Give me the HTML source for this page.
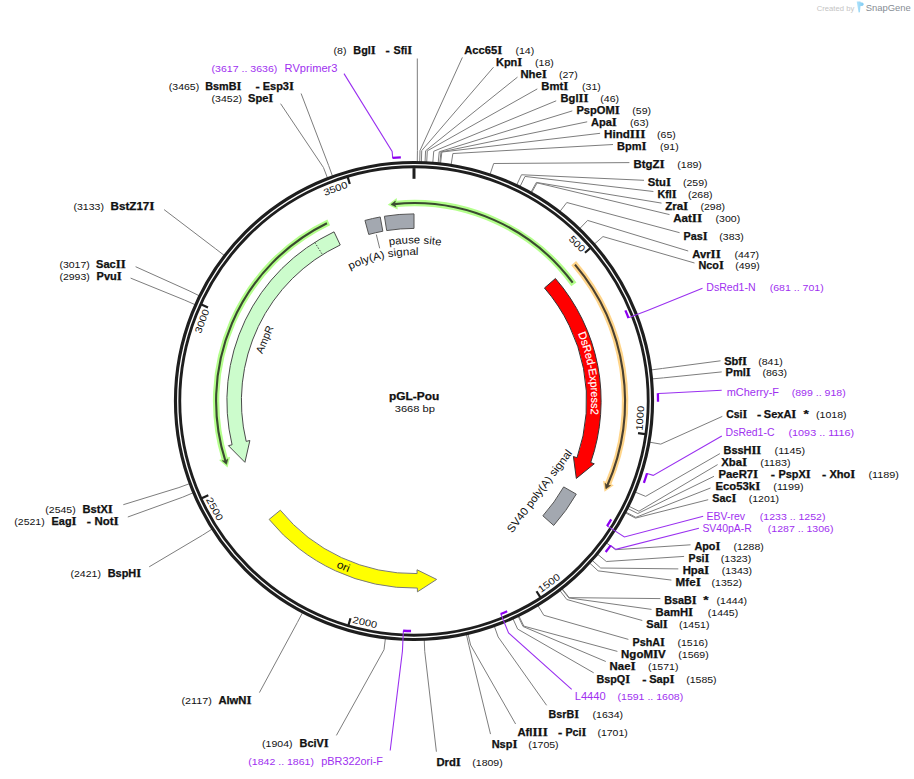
<!DOCTYPE html>
<html><head><meta charset="utf-8"><title>pGL-Pou</title>
<style>html,body{margin:0;padding:0;background:#fff;width:914px;height:779px;overflow:hidden}
svg text{font-family:"Liberation Sans",sans-serif} text[font-weight="bold"]{stroke:#111;stroke-width:0.25px} .mi{font-family:"Liberation Serif",serif;font-size:116%}</style></head>
<body><svg width="914" height="779" viewBox="0 0 914 779" style="display:block"><rect width="914" height="779" fill="#ffffff"/>
<polyline points="419.73,162.07 420.01,150.57 462.4,57.4" fill="none" stroke="#7d7d7d" stroke-width="1"/>
<polyline points="421.37,162.11 421.72,150.62 493.5,67.2" fill="none" stroke="#7d7d7d" stroke-width="1"/>
<polyline points="425.05,162.26 425.58,150.77 517.5,77.1" fill="none" stroke="#7d7d7d" stroke-width="1"/>
<polyline points="426.69,162.34 427.3,150.85 537.3,88.9" fill="none" stroke="#7d7d7d" stroke-width="1"/>
<polyline points="432.81,162.74 433.72,151.28 556.2,100.8" fill="none" stroke="#7d7d7d" stroke-width="1"/>
<polyline points="438.11,163.22 439.27,151.78 572.3,110.9" fill="none" stroke="#7d7d7d" stroke-width="1"/>
<polyline points="439.74,163.39 440.98,151.96 587.2,121.8" fill="none" stroke="#7d7d7d" stroke-width="1"/>
<polyline points="440.56,163.48 441.83,152.05 600.1,133.3" fill="none" stroke="#7d7d7d" stroke-width="1"/>
<polyline points="451.1,164.9 452.89,153.54 613,144.5" fill="none" stroke="#7d7d7d" stroke-width="1"/>
<polyline points="490.03,174.42 493.69,163.51 629.4,162.6" fill="none" stroke="#7d7d7d" stroke-width="1"/>
<polyline points="516.59,185.14 521.53,174.75 644,180.3" fill="none" stroke="#7d7d7d" stroke-width="1"/>
<polyline points="519.91,186.75 525,176.44 653.4,191.5" fill="none" stroke="#7d7d7d" stroke-width="1"/>
<polyline points="530.77,192.47 536.39,182.43 661.5,203.1" fill="none" stroke="#7d7d7d" stroke-width="1"/>
<polyline points="531.49,192.87 537.14,182.86 669.5,214.6" fill="none" stroke="#7d7d7d" stroke-width="1"/>
<polyline points="559.79,211.62 566.81,202.5 679.6,232.7" fill="none" stroke="#7d7d7d" stroke-width="1"/>
<polyline points="579.64,228.71 587.61,220.42 688.2,251" fill="none" stroke="#7d7d7d" stroke-width="1"/>
<polyline points="594.31,244.12 602.98,236.57 694.5,263" fill="none" stroke="#7d7d7d" stroke-width="1"/>
<polyline points="650.98,369.97 662.38,368.48 720.5,360.8" fill="none" stroke="#7d7d7d" stroke-width="1"/>
<polyline points="651.98,378.92 663.43,377.86 721.7,371.9" fill="none" stroke="#7d7d7d" stroke-width="1"/>
<polyline points="649.43,442.14 660.76,444.12 722.3,416.4" fill="none" stroke="#7d7d7d" stroke-width="1"/>
<polyline points="635,491.99 645.64,496.37 719.9,453.6" fill="none" stroke="#7d7d7d" stroke-width="1"/>
<polyline points="628.62,506.17 638.94,511.23 717.6,464.6" fill="none" stroke="#7d7d7d" stroke-width="1"/>
<polyline points="627.52,508.37 637.8,513.54 714,476.3" fill="none" stroke="#7d7d7d" stroke-width="1"/>
<polyline points="625.65,512.01 635.84,517.35 710.5,488" fill="none" stroke="#7d7d7d" stroke-width="1"/>
<polyline points="625.27,512.74 635.44,518.11 708.2,499.7" fill="none" stroke="#7d7d7d" stroke-width="1"/>
<polyline points="606.34,542.87 615.59,549.69 690.5,544.8" fill="none" stroke="#7d7d7d" stroke-width="1"/>
<polyline points="597.49,554.14 606.32,561.51 684.1,556.4" fill="none" stroke="#7d7d7d" stroke-width="1"/>
<polyline points="592.14,560.33 600.71,568 678.3,568.9" fill="none" stroke="#7d7d7d" stroke-width="1"/>
<polyline points="589.66,563.06 598.12,570.86 671.4,580.1" fill="none" stroke="#7d7d7d" stroke-width="1"/>
<polyline points="562.05,588.62 569.18,597.65 660.4,598.6" fill="none" stroke="#7d7d7d" stroke-width="1"/>
<polyline points="561.73,588.87 568.84,597.91 651.5,609.4" fill="none" stroke="#7d7d7d" stroke-width="1"/>
<polyline points="559.79,590.38 566.81,599.5 642.3,620.5" fill="none" stroke="#7d7d7d" stroke-width="1"/>
<polyline points="537.85,605.41 543.8,615.25 628.4,639.4" fill="none" stroke="#7d7d7d" stroke-width="1"/>
<polyline points="518.8,615.8 523.85,626.13 617.4,651.4" fill="none" stroke="#7d7d7d" stroke-width="1"/>
<polyline points="518.07,616.15 523.07,626.51 605.8,661.5" fill="none" stroke="#7d7d7d" stroke-width="1"/>
<polyline points="512.88,618.59 517.64,629.06 593.7,672.8" fill="none" stroke="#7d7d7d" stroke-width="1"/>
<polyline points="494.29,626.11 498.15,636.94 546.6,705.3" fill="none" stroke="#7d7d7d" stroke-width="1"/>
<polyline points="467.98,633.82 470.58,645.03 515.6,724" fill="none" stroke="#7d7d7d" stroke-width="1"/>
<polyline points="466.38,634.19 468.9,645.41 490.5,734.1" fill="none" stroke="#7d7d7d" stroke-width="1"/>
<polyline points="424.23,639.78 424.72,651.27 436.4,751.7" fill="none" stroke="#7d7d7d" stroke-width="1"/>
<polyline points="385.41,638.28 384.03,649.7 336.4,735.4" fill="none" stroke="#7d7d7d" stroke-width="1"/>
<polyline points="302.62,612.46 297.27,622.64 259.4,692.6" fill="none" stroke="#7d7d7d" stroke-width="1"/>
<polyline points="212.18,529.02 202.47,535.18 149.2,566.8" fill="none" stroke="#7d7d7d" stroke-width="1"/>
<polyline points="193.31,492.74 182.69,497.16 127.8,517" fill="none" stroke="#7d7d7d" stroke-width="1"/>
<polyline points="189.73,483.6 178.93,487.57 123.3,504.7" fill="none" stroke="#7d7d7d" stroke-width="1"/>
<polyline points="195.24,304.74 184.72,300.11 130.6,278.1" fill="none" stroke="#7d7d7d" stroke-width="1"/>
<polyline points="199.38,295.83 189.06,290.77 135.6,266.7" fill="none" stroke="#7d7d7d" stroke-width="1"/>
<polyline points="224.37,255.53 215.24,248.53 164.1,209.6" fill="none" stroke="#7d7d7d" stroke-width="1"/>
<polyline points="327.57,178.17 323.41,167.45 280.6,103.7" fill="none" stroke="#7d7d7d" stroke-width="1"/>
<polyline points="332.56,176.3 328.64,165.49 301.1,93.5" fill="none" stroke="#7d7d7d" stroke-width="1"/>
<polyline points="417.28,162.02 417.43,150.52 417.3,58.5" fill="none" stroke="#7d7d7d" stroke-width="1"/>
<circle cx="414" cy="401" r="236.45" fill="none" stroke="#1e1e1e" stroke-width="7.3"/>
<circle cx="414" cy="401" r="236.3" fill="none" stroke="#ffffff" stroke-width="1.3"/>
<polyline points="392.71,157.93 392.14,151.46 344,73.6" fill="none" stroke="#9a30f0" stroke-width="1.1"/>
<path d="M392.5 157.95A244 244 0 0 1 400.84 157.36" fill="none" stroke="#8c00f0" stroke-width="2.3"/>
<polyline points="628.44,317.83 647.55,310.41 702.5,288.3" fill="none" stroke="#9a30f0" stroke-width="1.1"/>
<path d="M625.38 310.35A230 230 0 0 1 628.51 318.01" fill="none" stroke="#8c00f0" stroke-width="2.3"/>
<polyline points="657.88,393.48 664.38,393.28 721.7,390.3" fill="none" stroke="#9a30f0" stroke-width="1.1"/>
<path d="M657.88 393.27A244 244 0 0 1 658 401.63" fill="none" stroke="#8c00f0" stroke-width="2.3"/>
<polyline points="646.99,473.45 653.2,475.38 721.8,436" fill="none" stroke="#9a30f0" stroke-width="1.1"/>
<path d="M647.06 473.25A244 244 0 0 1 643.89 482.77" fill="none" stroke="#8c00f0" stroke-width="2.3"/>
<polyline points="607.16,525.86 624.37,536.99 703.2,516.3" fill="none" stroke="#9a30f0" stroke-width="1.1"/>
<path d="M611.22 519.34A230 230 0 0 1 607.05 526.02" fill="none" stroke="#8c00f0" stroke-width="2.3"/>
<polyline points="610.61,545.5 615.85,549.35 698.9,528.2" fill="none" stroke="#9a30f0" stroke-width="1.1"/>
<path d="M610.73 545.33A244 244 0 0 1 605.68 551.99" fill="none" stroke="#8c00f0" stroke-width="2.3"/>
<polyline points="500.83,613.98 508.57,632.96 571.7,689.4" fill="none" stroke="#9a30f0" stroke-width="1.1"/>
<path d="M507.18 611.28A230 230 0 0 1 500.65 614.05" fill="none" stroke="#8c00f0" stroke-width="2.3"/>
<polyline points="403.37,630.75 402.42,651.23 390.2,750.5" fill="none" stroke="#9a30f0" stroke-width="1.1"/>
<path d="M411.05 630.98A230 230 0 0 1 403.17 630.74" fill="none" stroke="#8c00f0" stroke-width="2.3"/>
<line x1="414" y1="168.1" x2="414" y2="178.8" stroke="#1e1e1e" stroke-width="3"/>
<line x1="590.42" y1="248.04" x2="584.98" y2="252.75" stroke="#1e1e1e" stroke-width="2.2"/>
<text x="577.18" y="247.17" font-size="9.6" fill="#111111" text-anchor="middle" textLength="18.61" lengthAdjust="spacingAndGlyphs" transform="rotate(46.06 577.18 243.77)">500</text>
<line x1="645.14" y1="434.09" x2="638.02" y2="433.07" stroke="#1e1e1e" stroke-width="2.2"/>
<text x="639.95" y="421.59" font-size="9.6" fill="#111111" text-anchor="middle" textLength="24.81" lengthAdjust="spacingAndGlyphs" transform="rotate(-85.65 639.95 418.19)">1000</text>
<line x1="540.42" y1="597.31" x2="536.52" y2="591.26" stroke="#1e1e1e" stroke-width="2.2"/>
<text x="549.03" y="586.38" font-size="9.6" fill="#111111" text-anchor="middle" textLength="24.81" lengthAdjust="spacingAndGlyphs" transform="rotate(-36.58 549.03 582.98)">1500</text>
<line x1="348.49" y1="625.12" x2="350.51" y2="618.21" stroke="#1e1e1e" stroke-width="2.2"/>
<text x="364.96" y="625.63" font-size="9.6" fill="#111111" text-anchor="middle" textLength="24.81" lengthAdjust="spacingAndGlyphs" transform="rotate(12.5 364.96 622.23)">2000</text>
<line x1="201.75" y1="498.33" x2="208.3" y2="495.33" stroke="#1e1e1e" stroke-width="2.2"/>
<text x="214.73" y="512.28" font-size="9.6" fill="#111111" text-anchor="middle" textLength="24.81" lengthAdjust="spacingAndGlyphs" transform="rotate(61.57 214.73 508.88)">2500</text>
<line x1="201.42" y1="304.4" x2="207.97" y2="307.38" stroke="#1e1e1e" stroke-width="2.2"/>
<text x="201.95" y="324.51" font-size="9.6" fill="#111111" text-anchor="middle" textLength="24.81" lengthAdjust="spacingAndGlyphs" transform="rotate(-69.36 201.95 321.11)">3000</text>
<line x1="347.73" y1="177.1" x2="349.77" y2="184.01" stroke="#1e1e1e" stroke-width="2.2"/>
<text x="335.45" y="191.85" font-size="9.6" fill="#111111" text-anchor="middle" textLength="24.81" lengthAdjust="spacingAndGlyphs" transform="rotate(-20.28 335.45 188.45)">3500</text>
<path d="M334.04 231.85A187.1 187.1 0 0 0 232.09 444.77L228.4 445.66L244.92 462.31L249.88 440.49L246.19 441.38A172.6 172.6 0 0 1 340.24 244.96Z" fill="#ccfccc" stroke="#4a4a4a" stroke-width="1" stroke-linejoin="miter"/>
<line x1="314.77" y1="242.38" x2="322.46" y2="254.67" stroke="#4a4a4a" stroke-width="1" stroke-dasharray="1.5,1.5"/>
<path d="M555.42 278.5A187.1 187.1 0 0 1 590.69 462.53L594.28 463.78L576.33 478.43L573.41 456.51L577 457.76A172.6 172.6 0 0 0 544.46 287.99Z" fill="#ff0000" stroke="#333333" stroke-width="1" stroke-linejoin="miter"/>
<path d="M269.11 519.38A187.1 187.1 0 0 0 417.36 588.07L417.43 591.87L436.63 579.42L417.03 569.77L417.1 573.57A172.6 172.6 0 0 1 280.34 510.2Z" fill="#ffff00" stroke="#7a7a7a" stroke-width="1" stroke-linejoin="miter"/>
<path d="M384.41 216.25A187.1 187.1 0 0 1 414 213.9L414 228.4A172.6 172.6 0 0 0 386.7 230.57Z" fill="#a3a8b0" stroke="#555555" stroke-width="1"/>
<path d="M364.94 220.45A187.1 187.1 0 0 1 380.22 216.97L382.84 231.24A172.6 172.6 0 0 0 368.75 234.44Z" fill="#a3a8b0" stroke="#555555" stroke-width="1"/>
<path d="M576.28 494.13A187.1 187.1 0 0 1 553.7 525.46L542.87 515.82A172.6 172.6 0 0 0 563.7 486.91Z" fill="#a3a8b0" stroke="#555555" stroke-width="1"/>
<path d="M328.74 222.41A197.9 197.9 0 0 0 224.74 458.84" fill="none" stroke="#b4ff8c" stroke-width="6.4"/>
<path d="M227.57 467.39L219.05 460.04L230.15 456.68Z" fill="#b4ff8c"/>
<path d="M326.94 223.28A197.9 197.9 0 0 0 225.49 461.23" fill="none" stroke="#3a4a30" stroke-width="2.1"/>
<path d="M226.52 464.36L222.27 460.66L225.4 460.94L227.81 458.94Z" fill="#3a4a30" stroke="#3a4a30" stroke-width="0.6" stroke-linejoin="miter"/>
<path d="M573.86 284.34A197.9 197.9 0 0 0 396.7 203.86" fill="none" stroke="#b4ff8c" stroke-width="6.4"/>
<path d="M387.76 204.85L396.71 198.04L397.69 209.59Z" fill="#b4ff8c"/>
<path d="M572.67 282.73A197.9 197.9 0 0 0 394.21 204.09" fill="none" stroke="#3a4a30" stroke-width="2.1"/>
<path d="M390.93 204.45L395.44 201.06L394.51 204.06L395.97 206.83Z" fill="#3a4a30" stroke="#3a4a30" stroke-width="0.6" stroke-linejoin="miter"/>
<path d="M573.69 263.09A211 211 0 0 1 608.22 483.46" fill="none" stroke="#ffd58a" stroke-width="6.4"/>
<path d="M604.52 491.67L613.76 485.26L603.07 480.75Z" fill="#ffd58a"/>
<path d="M574.99 264.61A211 211 0 0 1 607.23 485.76" fill="none" stroke="#4a4030" stroke-width="2.1"/>
<path d="M605.88 488.77L610.49 485.53L607.35 485.49L605.16 483.24Z" fill="#4a4030" stroke="#4a4030" stroke-width="0.6" stroke-linejoin="miter"/>
<path id="dsp" d="M560.04 300.63A177.2 177.2 0 0 1 583.9 451.33" fill="none"/>
<text font-size="11" fill="#ffffff" stroke="#ffffff" stroke-width="0.15"><textPath href="#dsp" startOffset="50%" text-anchor="middle" textLength="82.55" lengthAdjust="spacingAndGlyphs">DsRed-Express2</textPath></text>
<path id="orip" d="M307.24 550.12A183.4 183.4 0 0 0 380.26 581.27" fill="none"/>
<text font-size="10.8" fill="#111111"><textPath href="#orip" startOffset="50%" text-anchor="middle" textLength="13.4" lengthAdjust="spacingAndGlyphs">ori</textPath></text>
<text x="262.3" y="354.2" font-size="10.6" font-weight="normal" fill="#111111" textLength="28.98" lengthAdjust="spacingAndGlyphs" transform="rotate(-67.1 262.3 354.2)">AmpR</text>
<text x="512.2" y="533.4" font-size="11" font-weight="normal" fill="#111111" textLength="100.39" lengthAdjust="spacingAndGlyphs" transform="rotate(-53 512.2 533.4)">SV40 poly(A) signal</text>
<path id="psp" d="M313.54 279.57A157.6 157.6 0 0 1 516.14 280.98" fill="none"/>
<text font-size="10.6" fill="#111111"><textPath href="#psp" startOffset="50%" text-anchor="middle" textLength="51.83" lengthAdjust="spacingAndGlyphs">pause site</textPath></text>
<path id="pap" d="M284.97 332.68A146 146 0 0 1 503.69 285.79" fill="none"/>
<text font-size="10.6" fill="#111111"><textPath href="#pap" startOffset="50%" text-anchor="middle" textLength="70.55" lengthAdjust="spacingAndGlyphs">poly(A) signal</textPath></text>
<line x1="376.3" y1="234.5" x2="379.7" y2="248.3" stroke="#7d7d7d" stroke-width="1"/>
<text x="389" y="399.9" font-size="10" font-weight="bold" fill="#111111" textLength="50.28" lengthAdjust="spacingAndGlyphs">pGL-Pou</text>
<text x="394.7" y="411.8" font-size="9.8" font-weight="normal" fill="#111111" textLength="40.33" lengthAdjust="spacingAndGlyphs">3668 bp</text>
<text x="464.3" y="53.8" font-size="10" font-weight="bold" fill="#111111" textLength="37.98" lengthAdjust="spacingAndGlyphs">Acc65<tspan class="mi">I</tspan></text>
<text x="515.4" y="53.8" font-size="8.4" font-weight="normal" fill="#111111" textLength="18.78" lengthAdjust="spacingAndGlyphs">(14)</text>
<text x="496" y="65.9" font-size="10" font-weight="bold" fill="#111111" textLength="26.26" lengthAdjust="spacingAndGlyphs">Kpn<tspan class="mi">I</tspan></text>
<text x="535" y="65.9" font-size="8.4" font-weight="normal" fill="#111111" textLength="18.78" lengthAdjust="spacingAndGlyphs">(18)</text>
<text x="520.4" y="77.7" font-size="10" font-weight="bold" fill="#111111" textLength="26.51" lengthAdjust="spacingAndGlyphs">Nhe<tspan class="mi">I</tspan></text>
<text x="558.9" y="77.7" font-size="8.4" font-weight="normal" fill="#111111" textLength="18.78" lengthAdjust="spacingAndGlyphs">(27)</text>
<text x="541.3" y="89.6" font-size="10" font-weight="bold" fill="#111111" textLength="27.07" lengthAdjust="spacingAndGlyphs">Bmt<tspan class="mi">I</tspan></text>
<text x="582" y="89.6" font-size="8.4" font-weight="normal" fill="#111111" textLength="18.78" lengthAdjust="spacingAndGlyphs">(31)</text>
<text x="560.6" y="101.8" font-size="10" font-weight="bold" fill="#111111" textLength="27.91" lengthAdjust="spacingAndGlyphs">Bgl<tspan class="mi">I</tspan><tspan class="mi">I</tspan></text>
<text x="600.3" y="101.8" font-size="8.4" font-weight="normal" fill="#111111" textLength="18.78" lengthAdjust="spacingAndGlyphs">(46)</text>
<text x="576.4" y="113.9" font-size="10" font-weight="bold" fill="#111111" textLength="43.29" lengthAdjust="spacingAndGlyphs">PspOM<tspan class="mi">I</tspan></text>
<text x="632.3" y="113.9" font-size="8.4" font-weight="normal" fill="#111111" textLength="18.78" lengthAdjust="spacingAndGlyphs">(59)</text>
<text x="591" y="125.7" font-size="10" font-weight="bold" fill="#111111" textLength="25.87" lengthAdjust="spacingAndGlyphs">Apa<tspan class="mi">I</tspan></text>
<text x="630" y="125.7" font-size="8.4" font-weight="normal" fill="#111111" textLength="18.78" lengthAdjust="spacingAndGlyphs">(63)</text>
<text x="604.1" y="137.8" font-size="10" font-weight="bold" fill="#111111" textLength="41.48" lengthAdjust="spacingAndGlyphs">Hind<tspan class="mi">I</tspan><tspan class="mi">I</tspan><tspan class="mi">I</tspan></text>
<text x="657" y="137.8" font-size="8.4" font-weight="normal" fill="#111111" textLength="18.78" lengthAdjust="spacingAndGlyphs">(65)</text>
<text x="617.1" y="150.1" font-size="10" font-weight="bold" fill="#111111" textLength="29.5" lengthAdjust="spacingAndGlyphs">Bpm<tspan class="mi">I</tspan></text>
<text x="659.9" y="150.1" font-size="8.4" font-weight="normal" fill="#111111" textLength="18.78" lengthAdjust="spacingAndGlyphs">(91)</text>
<text x="633.5" y="168.2" font-size="10" font-weight="bold" fill="#111111" textLength="31.14" lengthAdjust="spacingAndGlyphs">BtgZ<tspan class="mi">I</tspan></text>
<text x="677.3" y="168.2" font-size="8.4" font-weight="normal" fill="#111111" textLength="24.6" lengthAdjust="spacingAndGlyphs">(189)</text>
<text x="647.8" y="186" font-size="10" font-weight="bold" fill="#111111" textLength="23.28" lengthAdjust="spacingAndGlyphs">Stu<tspan class="mi">I</tspan></text>
<text x="683" y="186" font-size="8.4" font-weight="normal" fill="#111111" textLength="24.6" lengthAdjust="spacingAndGlyphs">(259)</text>
<text x="657.4" y="197.9" font-size="10" font-weight="bold" fill="#111111" textLength="19.26" lengthAdjust="spacingAndGlyphs">Kfl<tspan class="mi">I</tspan></text>
<text x="688" y="197.9" font-size="8.4" font-weight="normal" fill="#111111" textLength="24.6" lengthAdjust="spacingAndGlyphs">(268)</text>
<text x="665.2" y="209.6" font-size="10" font-weight="bold" fill="#111111" textLength="23.1" lengthAdjust="spacingAndGlyphs">Zra<tspan class="mi">I</tspan></text>
<text x="700.5" y="209.6" font-size="8.4" font-weight="normal" fill="#111111" textLength="24.6" lengthAdjust="spacingAndGlyphs">(298)</text>
<text x="673.3" y="221.9" font-size="10" font-weight="bold" fill="#111111" textLength="28.99" lengthAdjust="spacingAndGlyphs">Aat<tspan class="mi">I</tspan><tspan class="mi">I</tspan></text>
<text x="715.6" y="221.9" font-size="8.4" font-weight="normal" fill="#111111" textLength="24.6" lengthAdjust="spacingAndGlyphs">(300)</text>
<text x="683.6" y="239.8" font-size="10" font-weight="bold" fill="#111111" textLength="23.95" lengthAdjust="spacingAndGlyphs">Pas<tspan class="mi">I</tspan></text>
<text x="719.3" y="239.8" font-size="8.4" font-weight="normal" fill="#111111" textLength="24.6" lengthAdjust="spacingAndGlyphs">(383)</text>
<text x="692.2" y="257.6" font-size="10" font-weight="bold" fill="#111111" textLength="28.55" lengthAdjust="spacingAndGlyphs">Avr<tspan class="mi">I</tspan><tspan class="mi">I</tspan></text>
<text x="734.5" y="257.6" font-size="8.4" font-weight="normal" fill="#111111" textLength="24.6" lengthAdjust="spacingAndGlyphs">(447)</text>
<text x="698.5" y="269.4" font-size="10" font-weight="bold" fill="#111111" textLength="25.39" lengthAdjust="spacingAndGlyphs">Nco<tspan class="mi">I</tspan></text>
<text x="735.2" y="269.4" font-size="8.4" font-weight="normal" fill="#111111" textLength="24.6" lengthAdjust="spacingAndGlyphs">(499)</text>
<text x="724.2" y="365" font-size="10" font-weight="bold" fill="#111111" textLength="22.88" lengthAdjust="spacingAndGlyphs">Sbf<tspan class="mi">I</tspan></text>
<text x="758.2" y="365" font-size="8.4" font-weight="normal" fill="#111111" textLength="24.6" lengthAdjust="spacingAndGlyphs">(841)</text>
<text x="725.5" y="376.4" font-size="10" font-weight="bold" fill="#111111" textLength="25.4" lengthAdjust="spacingAndGlyphs">Pml<tspan class="mi">I</tspan></text>
<text x="762.5" y="376.4" font-size="8.4" font-weight="normal" fill="#111111" textLength="24.6" lengthAdjust="spacingAndGlyphs">(863)</text>
<text x="726.3" y="417.6" font-size="10" font-weight="bold" fill="#111111" textLength="20.85" lengthAdjust="spacingAndGlyphs">Csi<tspan class="mi">I</tspan></text>
<text x="757" y="417.6" font-size="10" font-weight="bold" fill="#111111" textLength="4.23" lengthAdjust="spacingAndGlyphs">-</text>
<text x="763.8" y="417.6" font-size="10" font-weight="bold" fill="#111111" textLength="32.53" lengthAdjust="spacingAndGlyphs">SexA<tspan class="mi">I</tspan></text>
<text x="803.6" y="417.6" font-size="10" font-weight="bold" fill="#111111" textLength="5.33" lengthAdjust="spacingAndGlyphs">*</text>
<text x="816.1" y="417.6" font-size="8.4" font-weight="normal" fill="#111111" textLength="30.43" lengthAdjust="spacingAndGlyphs">(1018)</text>
<text x="723.5" y="453.6" font-size="10" font-weight="bold" fill="#111111" textLength="37.79" lengthAdjust="spacingAndGlyphs">BssH<tspan class="mi">I</tspan><tspan class="mi">I</tspan></text>
<text x="774.6" y="453.6" font-size="8.4" font-weight="normal" fill="#111111" textLength="30.43" lengthAdjust="spacingAndGlyphs">(1145)</text>
<text x="721.2" y="465.6" font-size="10" font-weight="bold" fill="#111111" textLength="25.84" lengthAdjust="spacingAndGlyphs">Xba<tspan class="mi">I</tspan></text>
<text x="760.2" y="465.6" font-size="8.4" font-weight="normal" fill="#111111" textLength="30.43" lengthAdjust="spacingAndGlyphs">(1183)</text>
<text x="718.5" y="477.7" font-size="10" font-weight="bold" fill="#111111" textLength="39.75" lengthAdjust="spacingAndGlyphs">PaeR7<tspan class="mi">I</tspan></text>
<text x="770.8" y="477.7" font-size="10" font-weight="bold" fill="#111111" textLength="4.23" lengthAdjust="spacingAndGlyphs">-</text>
<text x="778.4" y="477.7" font-size="10" font-weight="bold" fill="#111111" textLength="32.33" lengthAdjust="spacingAndGlyphs">PspX<tspan class="mi">I</tspan></text>
<text x="821.9" y="477.7" font-size="10" font-weight="bold" fill="#111111" textLength="4.23" lengthAdjust="spacingAndGlyphs">-</text>
<text x="829.4" y="477.7" font-size="10" font-weight="bold" fill="#111111" textLength="25.93" lengthAdjust="spacingAndGlyphs">Xho<tspan class="mi">I</tspan></text>
<text x="868.4" y="477.7" font-size="8.4" font-weight="normal" fill="#111111" textLength="30.43" lengthAdjust="spacingAndGlyphs">(1189)</text>
<text x="715.5" y="489.5" font-size="10" font-weight="bold" fill="#111111" textLength="44.79" lengthAdjust="spacingAndGlyphs">Eco53k<tspan class="mi">I</tspan></text>
<text x="773.3" y="489.5" font-size="8.4" font-weight="normal" fill="#111111" textLength="30.43" lengthAdjust="spacingAndGlyphs">(1199)</text>
<text x="712.2" y="501.6" font-size="10" font-weight="bold" fill="#111111" textLength="24.07" lengthAdjust="spacingAndGlyphs">Sac<tspan class="mi">I</tspan></text>
<text x="748.7" y="501.6" font-size="8.4" font-weight="normal" fill="#111111" textLength="30.43" lengthAdjust="spacingAndGlyphs">(1201)</text>
<text x="694.4" y="549.8" font-size="10" font-weight="bold" fill="#111111" textLength="26" lengthAdjust="spacingAndGlyphs">Apo<tspan class="mi">I</tspan></text>
<text x="733.4" y="549.8" font-size="8.4" font-weight="normal" fill="#111111" textLength="30.43" lengthAdjust="spacingAndGlyphs">(1288)</text>
<text x="688.6" y="561.6" font-size="10" font-weight="bold" fill="#111111" textLength="20.66" lengthAdjust="spacingAndGlyphs">Psi<tspan class="mi">I</tspan></text>
<text x="720.8" y="561.6" font-size="8.4" font-weight="normal" fill="#111111" textLength="30.43" lengthAdjust="spacingAndGlyphs">(1323)</text>
<text x="682.7" y="574.2" font-size="10" font-weight="bold" fill="#111111" textLength="26.52" lengthAdjust="spacingAndGlyphs">Hpa<tspan class="mi">I</tspan></text>
<text x="721.7" y="574.2" font-size="8.4" font-weight="normal" fill="#111111" textLength="30.43" lengthAdjust="spacingAndGlyphs">(1343)</text>
<text x="675.6" y="585.9" font-size="10" font-weight="bold" fill="#111111" textLength="25.3" lengthAdjust="spacingAndGlyphs">Mfe<tspan class="mi">I</tspan></text>
<text x="711.6" y="585.9" font-size="8.4" font-weight="normal" fill="#111111" textLength="30.43" lengthAdjust="spacingAndGlyphs">(1352)</text>
<text x="664.3" y="603.9" font-size="10" font-weight="bold" fill="#111111" textLength="32.3" lengthAdjust="spacingAndGlyphs">BsaB<tspan class="mi">I</tspan></text>
<text x="703.3" y="603.9" font-size="10" font-weight="bold" fill="#111111" textLength="5.33" lengthAdjust="spacingAndGlyphs">*</text>
<text x="716.6" y="603.9" font-size="8.4" font-weight="normal" fill="#111111" textLength="30.43" lengthAdjust="spacingAndGlyphs">(1444)</text>
<text x="655.5" y="615.9" font-size="10" font-weight="bold" fill="#111111" textLength="37.62" lengthAdjust="spacingAndGlyphs">BamH<tspan class="mi">I</tspan></text>
<text x="707.8" y="615.9" font-size="8.4" font-weight="normal" fill="#111111" textLength="30.43" lengthAdjust="spacingAndGlyphs">(1445)</text>
<text x="646.3" y="627.6" font-size="10" font-weight="bold" fill="#111111" textLength="21.52" lengthAdjust="spacingAndGlyphs">Sal<tspan class="mi">I</tspan></text>
<text x="679" y="627.6" font-size="8.4" font-weight="normal" fill="#111111" textLength="30.43" lengthAdjust="spacingAndGlyphs">(1451)</text>
<text x="632.5" y="646.3" font-size="10" font-weight="bold" fill="#111111" textLength="32.32" lengthAdjust="spacingAndGlyphs">PshA<tspan class="mi">I</tspan></text>
<text x="677.5" y="646.3" font-size="8.4" font-weight="normal" fill="#111111" textLength="30.43" lengthAdjust="spacingAndGlyphs">(1516)</text>
<text x="621.1" y="658.4" font-size="10" font-weight="bold" fill="#111111" textLength="44.69" lengthAdjust="spacingAndGlyphs">NgoM<tspan class="mi">I</tspan>V</text>
<text x="678.3" y="658.4" font-size="8.4" font-weight="normal" fill="#111111" textLength="30.43" lengthAdjust="spacingAndGlyphs">(1569)</text>
<text x="609.6" y="669.8" font-size="10" font-weight="bold" fill="#111111" textLength="26.13" lengthAdjust="spacingAndGlyphs">Nae<tspan class="mi">I</tspan></text>
<text x="648" y="669.8" font-size="8.4" font-weight="normal" fill="#111111" textLength="30.43" lengthAdjust="spacingAndGlyphs">(1571)</text>
<text x="596.4" y="682.5" font-size="10" font-weight="bold" fill="#111111" textLength="33.61" lengthAdjust="spacingAndGlyphs">BspQ<tspan class="mi">I</tspan></text>
<text x="642.2" y="682.5" font-size="10" font-weight="bold" fill="#111111" textLength="4.23" lengthAdjust="spacingAndGlyphs">-</text>
<text x="649.2" y="682.5" font-size="10" font-weight="bold" fill="#111111" textLength="25.33" lengthAdjust="spacingAndGlyphs">Sap<tspan class="mi">I</tspan></text>
<text x="686.2" y="682.5" font-size="8.4" font-weight="normal" fill="#111111" textLength="30.43" lengthAdjust="spacingAndGlyphs">(1585)</text>
<text x="548.6" y="718.2" font-size="10" font-weight="bold" fill="#111111" textLength="30.45" lengthAdjust="spacingAndGlyphs">BsrB<tspan class="mi">I</tspan></text>
<text x="592.6" y="718.2" font-size="8.4" font-weight="normal" fill="#111111" textLength="30.43" lengthAdjust="spacingAndGlyphs">(1634)</text>
<text x="517.4" y="735.6" font-size="10" font-weight="bold" fill="#111111" textLength="30.34" lengthAdjust="spacingAndGlyphs">Afl<tspan class="mi">I</tspan><tspan class="mi">I</tspan><tspan class="mi">I</tspan></text>
<text x="557.9" y="735.6" font-size="10" font-weight="bold" fill="#111111" textLength="4.23" lengthAdjust="spacingAndGlyphs">-</text>
<text x="565.4" y="735.6" font-size="10" font-weight="bold" fill="#111111" textLength="20.81" lengthAdjust="spacingAndGlyphs">Pci<tspan class="mi">I</tspan></text>
<text x="597.4" y="735.6" font-size="8.4" font-weight="normal" fill="#111111" textLength="30.43" lengthAdjust="spacingAndGlyphs">(1701)</text>
<text x="491.7" y="747.9" font-size="10" font-weight="bold" fill="#111111" textLength="25.7" lengthAdjust="spacingAndGlyphs">Nsp<tspan class="mi">I</tspan></text>
<text x="528.2" y="747.9" font-size="8.4" font-weight="normal" fill="#111111" textLength="30.43" lengthAdjust="spacingAndGlyphs">(1705)</text>
<text x="436.4" y="765.6" font-size="10" font-weight="bold" fill="#111111" textLength="24.59" lengthAdjust="spacingAndGlyphs">Drd<tspan class="mi">I</tspan></text>
<text x="472.3" y="765.6" font-size="8.4" font-weight="normal" fill="#111111" textLength="30.43" lengthAdjust="spacingAndGlyphs">(1809)</text>
<text x="262.1" y="746.7" font-size="8.4" font-weight="normal" fill="#111111" textLength="30.43" lengthAdjust="spacingAndGlyphs">(1904)</text>
<text x="299.6" y="746.7" font-size="10" font-weight="bold" fill="#111111" textLength="29.01" lengthAdjust="spacingAndGlyphs">BciV<tspan class="mi">I</tspan></text>
<text x="181.4" y="704.4" font-size="8.4" font-weight="normal" fill="#111111" textLength="30.43" lengthAdjust="spacingAndGlyphs">(2117)</text>
<text x="218.4" y="704.4" font-size="10" font-weight="bold" fill="#111111" textLength="33.15" lengthAdjust="spacingAndGlyphs">AlwN<tspan class="mi">I</tspan></text>
<text x="70.5" y="576.9" font-size="8.4" font-weight="normal" fill="#111111" textLength="30.43" lengthAdjust="spacingAndGlyphs">(2421)</text>
<text x="107.7" y="576.9" font-size="10" font-weight="bold" fill="#111111" textLength="33.48" lengthAdjust="spacingAndGlyphs">BspH<tspan class="mi">I</tspan></text>
<text x="14.3" y="524.8" font-size="8.4" font-weight="normal" fill="#111111" textLength="30.43" lengthAdjust="spacingAndGlyphs">(2521)</text>
<text x="51.6" y="524.8" font-size="10" font-weight="bold" fill="#111111" textLength="24.95" lengthAdjust="spacingAndGlyphs">Eag<tspan class="mi">I</tspan></text>
<text x="86.8" y="524.8" font-size="10" font-weight="bold" fill="#111111" textLength="4.23" lengthAdjust="spacingAndGlyphs">-</text>
<text x="94.4" y="524.8" font-size="10" font-weight="bold" fill="#111111" textLength="24.22" lengthAdjust="spacingAndGlyphs">Not<tspan class="mi">I</tspan></text>
<text x="45.3" y="512.7" font-size="8.4" font-weight="normal" fill="#111111" textLength="30.43" lengthAdjust="spacingAndGlyphs">(2545)</text>
<text x="82.5" y="512.7" font-size="10" font-weight="bold" fill="#111111" textLength="30.38" lengthAdjust="spacingAndGlyphs">BstX<tspan class="mi">I</tspan></text>
<text x="59.4" y="279.8" font-size="8.4" font-weight="normal" fill="#111111" textLength="30.43" lengthAdjust="spacingAndGlyphs">(2993)</text>
<text x="96.6" y="279.8" font-size="10" font-weight="bold" fill="#111111" textLength="25.18" lengthAdjust="spacingAndGlyphs">Pvu<tspan class="mi">I</tspan></text>
<text x="59.4" y="268" font-size="8.4" font-weight="normal" fill="#111111" textLength="30.43" lengthAdjust="spacingAndGlyphs">(3017)</text>
<text x="96.1" y="268" font-size="10" font-weight="bold" fill="#111111" textLength="29.62" lengthAdjust="spacingAndGlyphs">Sac<tspan class="mi">I</tspan><tspan class="mi">I</tspan></text>
<text x="73.5" y="209.6" font-size="8.4" font-weight="normal" fill="#111111" textLength="30.43" lengthAdjust="spacingAndGlyphs">(3133)</text>
<text x="110.5" y="209.6" font-size="10" font-weight="bold" fill="#111111" textLength="44.11" lengthAdjust="spacingAndGlyphs">BstZ17<tspan class="mi">I</tspan></text>
<text x="211.6" y="101.7" font-size="8.4" font-weight="normal" fill="#111111" textLength="30.43" lengthAdjust="spacingAndGlyphs">(3452)</text>
<text x="248" y="101.7" font-size="10" font-weight="bold" fill="#111111" textLength="25.36" lengthAdjust="spacingAndGlyphs">Spe<tspan class="mi">I</tspan></text>
<text x="168.8" y="89.6" font-size="8.4" font-weight="normal" fill="#111111" textLength="30.43" lengthAdjust="spacingAndGlyphs">(3465)</text>
<text x="205.3" y="89.6" font-size="10" font-weight="bold" fill="#111111" textLength="36.04" lengthAdjust="spacingAndGlyphs">BsmB<tspan class="mi">I</tspan></text>
<text x="255.6" y="89.6" font-size="10" font-weight="bold" fill="#111111" textLength="4.23" lengthAdjust="spacingAndGlyphs">-</text>
<text x="262.7" y="89.6" font-size="10" font-weight="bold" fill="#111111" textLength="31.23" lengthAdjust="spacingAndGlyphs">Esp3<tspan class="mi">I</tspan></text>
<text x="333.6" y="54" font-size="8.4" font-weight="normal" fill="#111111" textLength="12.96" lengthAdjust="spacingAndGlyphs">(8)</text>
<text x="353.3" y="54" font-size="10" font-weight="bold" fill="#111111" textLength="22.37" lengthAdjust="spacingAndGlyphs">Bgl<tspan class="mi">I</tspan></text>
<text x="385.6" y="54" font-size="10" font-weight="bold" fill="#111111" textLength="4.23" lengthAdjust="spacingAndGlyphs">-</text>
<text x="393.5" y="54" font-size="10" font-weight="bold" fill="#111111" textLength="18.7" lengthAdjust="spacingAndGlyphs">Sfi<tspan class="mi">I</tspan></text>
<text x="211.6" y="71.5" font-size="8.6" font-weight="normal" fill="#a030f0" textLength="65.7" lengthAdjust="spacingAndGlyphs">(3617 .. 3636)</text>
<text x="284.6" y="71.5" font-size="11.2" font-weight="normal" fill="#a030f0" textLength="52.85" lengthAdjust="spacingAndGlyphs">RVprimer3</text>
<text x="706.3" y="290.8" font-size="11.2" font-weight="normal" fill="#a030f0" textLength="49.36" lengthAdjust="spacingAndGlyphs">DsRed1-N</text>
<text x="769.7" y="290.8" font-size="8.6" font-weight="normal" fill="#a030f0" textLength="54" lengthAdjust="spacingAndGlyphs">(681 .. 701)</text>
<text x="726.7" y="396" font-size="11.2" font-weight="normal" fill="#a030f0" textLength="52.36" lengthAdjust="spacingAndGlyphs">mCherry-F</text>
<text x="791.7" y="396" font-size="8.6" font-weight="normal" fill="#a030f0" textLength="54" lengthAdjust="spacingAndGlyphs">(899 .. 918)</text>
<text x="725.6" y="436" font-size="11.2" font-weight="normal" fill="#a030f0" textLength="48.86" lengthAdjust="spacingAndGlyphs">DsRed1-C</text>
<text x="788.5" y="436" font-size="8.6" font-weight="normal" fill="#a030f0" textLength="65.7" lengthAdjust="spacingAndGlyphs">(1093 .. 1116)</text>
<text x="706.4" y="520.1" font-size="11.2" font-weight="normal" fill="#a030f0" textLength="38.7" lengthAdjust="spacingAndGlyphs">EBV-rev</text>
<text x="759.8" y="520.1" font-size="8.6" font-weight="normal" fill="#a030f0" textLength="65.7" lengthAdjust="spacingAndGlyphs">(1233 .. 1252)</text>
<text x="702.4" y="532.2" font-size="11.2" font-weight="normal" fill="#a030f0" textLength="49.44" lengthAdjust="spacingAndGlyphs">SV40pA-R</text>
<text x="767.8" y="532.2" font-size="8.6" font-weight="normal" fill="#a030f0" textLength="65.7" lengthAdjust="spacingAndGlyphs">(1287 .. 1306)</text>
<text x="574.7" y="699.7" font-size="11.2" font-weight="normal" fill="#a030f0" textLength="31.02" lengthAdjust="spacingAndGlyphs">L4440</text>
<text x="617.5" y="699.7" font-size="8.6" font-weight="normal" fill="#a030f0" textLength="65.7" lengthAdjust="spacingAndGlyphs">(1591 .. 1608)</text>
<text x="248.3" y="764.8" font-size="8.6" font-weight="normal" fill="#a030f0" textLength="65.7" lengthAdjust="spacingAndGlyphs">(1842 .. 1861)</text>
<text x="321.3" y="764.8" font-size="11.2" font-weight="normal" fill="#a030f0" textLength="61.61" lengthAdjust="spacingAndGlyphs">pBR322ori-F</text>
<text x="816.8" y="10.5" font-size="7.1" font-weight="normal" fill="#c4c4c4" textLength="37.41" lengthAdjust="spacingAndGlyphs">Created by</text>
<defs><linearGradient id="lg" x1="0" y1="0" x2="1" y2="0"><stop offset="0" stop-color="#b4e4fb"/><stop offset="1" stop-color="#7ccaf2"/></linearGradient></defs>
<path d="M856.7 1.5L860.5 1.5L860.5 2.3C862.6 2.3 863.7 3 863.7 4.3C863.7 5.6 862.4 6.1 860.5 6.1L859.9 12.3L858.6 12.6Z" fill="url(#lg)"/>
<text x="865.7" y="10.7" font-size="9.8" font-weight="normal" fill="#868c94" textLength="45.11" lengthAdjust="spacingAndGlyphs">SnapGene</text></svg></body></html>
